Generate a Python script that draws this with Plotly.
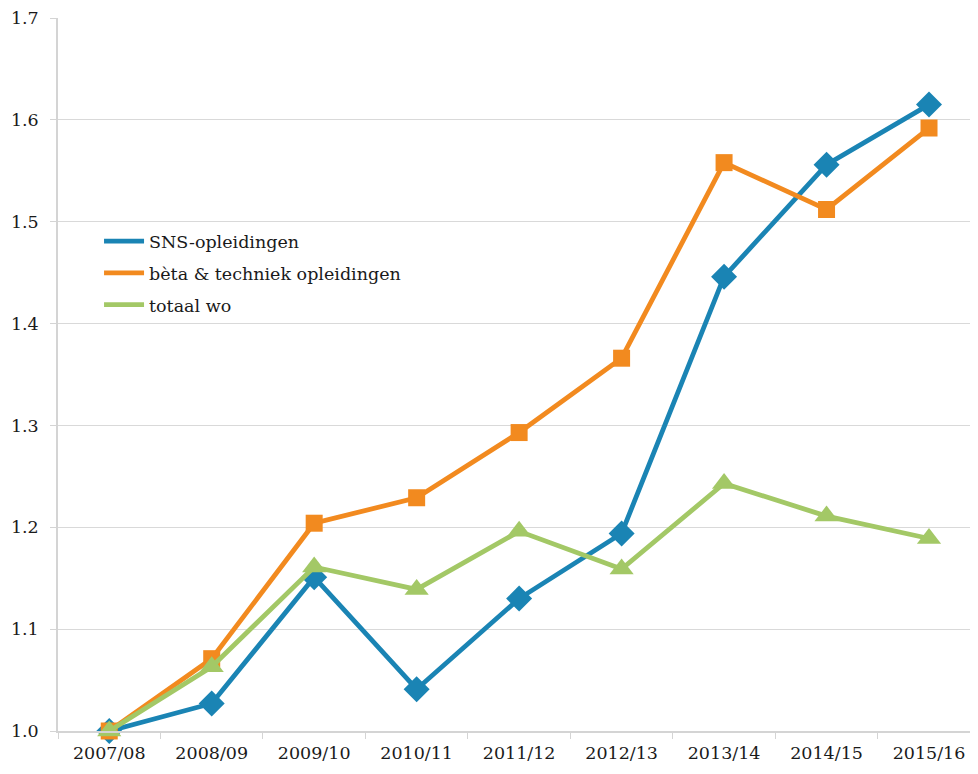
import plotly.graph_objects as go

years = ["2007/08", "2008/09", "2009/10", "2010/11", "2011/12", "2012/13", "2013/14", "2014/15", "2015/16"]
sns = [1.000, 1.027, 1.151, 1.041, 1.130, 1.194, 1.446, 1.556, 1.615]
beta = [1.000, 1.071, 1.204, 1.229, 1.293, 1.366, 1.558, 1.512, 1.592]
totaal = [1.000, 1.063, 1.161, 1.139, 1.196, 1.159, 1.243, 1.211, 1.189]

names = ["SNS-opleidingen", "bèta & techniek opleidingen", "totaal wo"]
colors = ["#1A84B4", "#F28A1F", "#A3C866"]
symbols = ["diamond", "square", "triangle-up"]
sizes = [20, 17, 21]
series = [sns, beta, totaal]

FONT = "DejaVu Serif"
fig = go.Figure()
for name, vals, col, sym, sz in zip(names, series, colors, symbols, sizes):
    fig.add_trace(go.Scatter(x=years, y=vals, mode="lines+markers", name=name,
                             line=dict(color=col, width=4.8),
                             marker=dict(symbol=sym, size=sz, color=col),
                             showlegend=False, cliponaxis=False))
for i, (name, col) in enumerate(zip(names, colors)):
    fig.add_trace(go.Scatter(x=[None], y=[None], mode="lines", name=name, legendgroup=f"g{i}",
                             line=dict(color=col, width=4.8)))

fig.update_layout(
    width=962, height=758,
    margin=dict(l=50, r=0, t=10, b=35),
    paper_bgcolor="white", plot_bgcolor="white",
    font=dict(family=FONT, size=17.5, color="#1a1a1a"),
    legend=dict(x=0.045, y=0.712, xanchor="left", yanchor="top",
                font=dict(family=FONT, size=17.5), tracegroupgap=6,
                itemwidth=40, bgcolor="rgba(0,0,0,0)"),
    xaxis=dict(type="category", range=[-0.5, 8.4], showgrid=False, showline=True,
               linecolor="#d4d4d4", linewidth=1.5,
               ticks="outside", tickson="boundaries", ticklen=6, tickcolor="#d4d4d4",
               ticklabelstandoff=5, tickfont=dict(family=FONT, size=17.5)),
    yaxis=dict(range=[1.0, 1.7], dtick=0.1, tickformat=".1f", showgrid=True, gridcolor="#d9d9d9",
               gridwidth=1, zeroline=False, showline=True, linecolor="#d4d4d4", linewidth=1.5,
               ticks="outside", ticklen=6, tickcolor="#d4d4d4", ticklabelstandoff=8,
               tickfont=dict(family=FONT, size=17.5)),
)
fig.write_html("out.html")
